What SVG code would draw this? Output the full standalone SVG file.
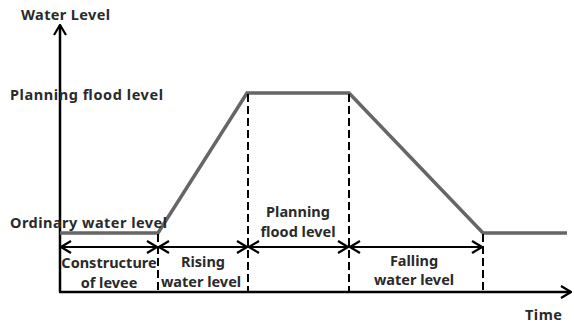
<svg xmlns="http://www.w3.org/2000/svg" width="574" height="327" viewBox="0 0 574 327">
<defs>
<marker id="chev" viewBox="0 0 12 14" refX="11" refY="7" markerWidth="12" markerHeight="14" markerUnits="userSpaceOnUse" orient="auto-start-reverse">
<polyline points="1,1 11,7 1,13" fill="none" stroke="#000" stroke-width="2.2"/>
</marker>
</defs>
<style>
.t{font-family:"Noto Sans","Open Sans",sans-serif;font-weight:bold;font-size:14.5px;fill:#2a2a2a}
.c{text-anchor:middle}
.ax{stroke:#000;stroke-width:2.5;fill:none}
.dim{stroke:#000;stroke-width:2;fill:none}
.dash{stroke:#000;stroke-width:2;stroke-dasharray:8,4;fill:none}
.wl{stroke:#666;stroke-width:3.5;fill:none;stroke-linejoin:miter}
</style>
<rect width="574" height="327" fill="#fff"/>
<g id="connectors">
<line class="ax" x1="60" y1="292" x2="60" y2="25" marker-end="url(#chev)"/>
<line class="ax" x1="59" y1="292" x2="571" y2="292" marker-end="url(#chev)"/>
<polyline class="wl" points="60,233 158,233 247,93 349,93 483,233 567,233"/>
<line class="dash" x1="158" y1="234" x2="158" y2="292"/>
<line class="dash" x1="248" y1="94" x2="248" y2="292"/>
<line class="dash" x1="349" y1="94" x2="349" y2="292"/>
<line class="dash" x1="483" y1="234" x2="483" y2="292"/>
<line class="dim" x1="61" y1="247" x2="157" y2="247" marker-start="url(#chev)" marker-end="url(#chev)"/>
<line class="dim" x1="159" y1="247" x2="247" y2="247" marker-start="url(#chev)" marker-end="url(#chev)"/>
<line class="dim" x1="249" y1="247" x2="348" y2="247" marker-start="url(#chev)" marker-end="url(#chev)"/>
<line class="dim" x1="350" y1="247" x2="482" y2="247" marker-start="url(#chev)" marker-end="url(#chev)"/>
</g>
<g id="axis-labels">
<text class="t" x="21" y="20" textLength="89">Water Level</text>
<text class="t" x="525" y="320" textLength="37">Time</text>
</g>
<g id="level-labels">
<text class="t" x="10" y="100" textLength="153">Planning flood level</text>
<text class="t" x="10" y="228" textLength="157">Ordinary water level</text>
</g>
<g id="phase-construct">
<text class="t c" x="109" y="268">Constructure</text>
<text class="t c" x="109" y="288">of levee</text>
</g>
<g id="phase-rising">
<text class="t c" x="203" y="267">Rising</text>
<text class="t c" x="201" y="287">water level</text>
</g>
<g id="phase-planning">
<text class="t c" x="298" y="217">Planning</text>
<text class="t c" x="298" y="237">flood level</text>
</g>
<g id="phase-falling">
<text class="t c" x="414" y="266">Falling</text>
<text class="t c" x="414" y="285">water level</text>
</g>
</svg>
